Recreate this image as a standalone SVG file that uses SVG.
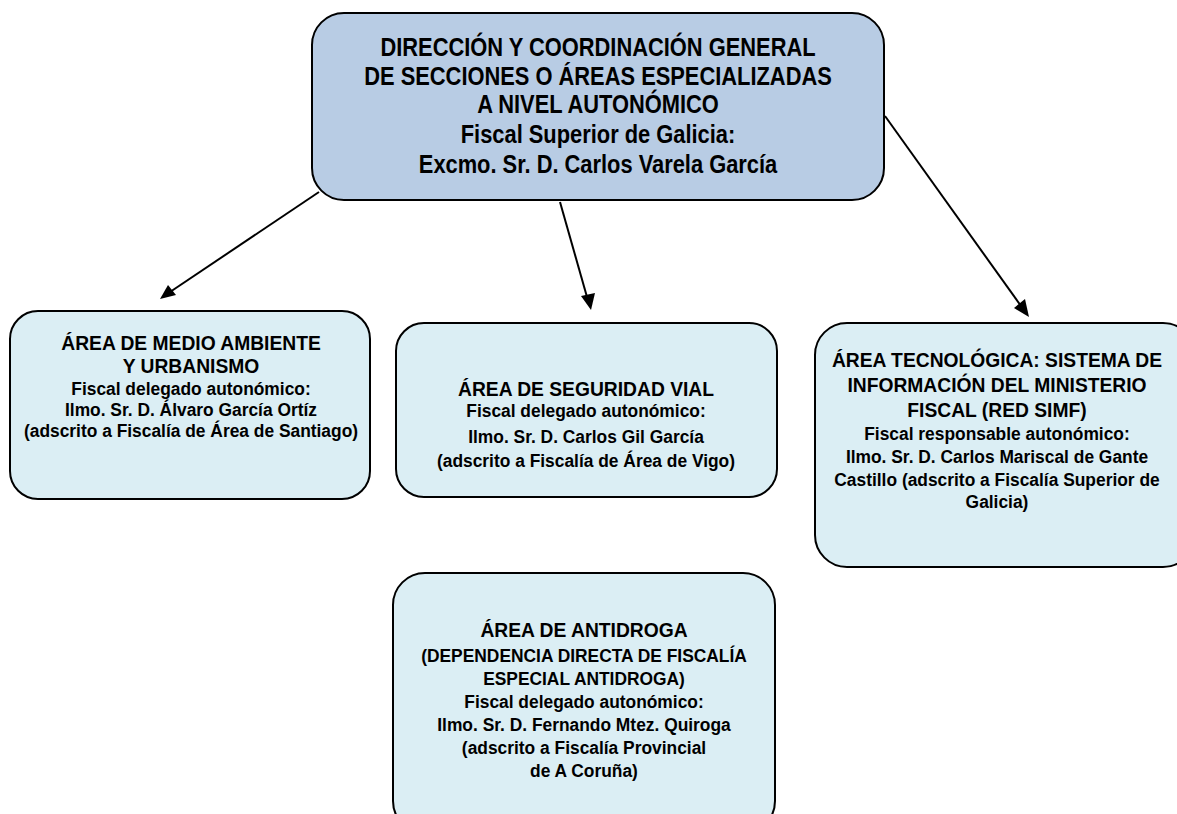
<svg xmlns="http://www.w3.org/2000/svg" width="1177" height="814" viewBox="0 0 1177 814">
<defs>
<style>
.box{stroke:#000;stroke-width:2}
.top{fill:#b8cce4}
.sub{fill:#dbeef4}
text{font-family:"Liberation Sans",Arial,sans-serif;font-weight:bold;fill:#000;text-anchor:middle}
.h1{font-size:25px}
.h2{font-size:20.5px}
.t{font-size:18.5px}
.con{stroke:#000;stroke-width:2;fill:none}
</style>
</defs>
<rect width="1177" height="814" fill="#fff"/>
<g id="connectors">
<line class="con" x1="319" y1="192" x2="170" y2="292"/>
<path d="M160,299 L168,285 L176,295 z" fill="#000"/>
<line class="con" x1="560" y1="202" x2="587" y2="297"/>
<path d="M591,310 L581,296 L595,293 z" fill="#000"/>
<line class="con" x1="885" y1="116" x2="1021" y2="306"/>
<path d="M1029,317 L1014,308 L1025,299 z" fill="#000"/>
</g>
<g id="top">
<rect class="box top" x="312" y="13" width="572" height="187" rx="32"/>
<g transform="translate(598,0) scale(0.875,1)">
<text class="h1" x="0" y="56">DIRECCIÓN Y COORDINACIÓN GENERAL</text>
<text class="h1" x="0" y="85">DE SECCIONES O ÁREAS ESPECIALIZADAS</text>
<text class="h1" x="0" y="113">A NIVEL AUTONÓMICO</text>
<text class="h1" x="0" y="143">Fiscal Superior de Galicia:</text>
<text class="h1" x="0" y="173">Excmo. Sr. D. Carlos Varela García</text>
</g>
</g>
<g id="medio">
<rect class="box sub" x="10" y="311" width="360" height="188" rx="28"/>
<g transform="translate(191,0) scale(0.94,1)">
<text class="h2" x="0" y="350">ÁREA DE MEDIO AMBIENTE</text>
<text class="h2" x="0" y="373">Y URBANISMO</text>
</g>
<g transform="translate(191,0) scale(0.94,1)">
<text class="t" x="0" y="395">Fiscal delegado autonómico:</text>
<text class="t" x="0" y="416">Ilmo. Sr. D. Álvaro García Ortíz</text>
<text class="t" x="0" y="437">(adscrito a Fiscalía de Área de Santiago)</text>
</g>
</g>
<g id="vial">
<rect class="box sub" x="396" y="323" width="381" height="174" rx="28"/>
<g transform="translate(586,0) scale(0.94,1)">
<text class="h2" x="0" y="396">ÁREA DE SEGURIDAD VIAL</text>
<text class="t" x="0" y="417">Fiscal delegado autonómico:</text>
<text class="t" x="0" y="443">Ilmo. Sr. D. Carlos Gil García</text>
<text class="t" x="0" y="467">(adscrito a Fiscalía de Área de Vigo)</text>
</g>
</g>
<g id="tecno">
<rect class="box sub" x="815" y="323" width="380" height="244" rx="32"/>
<g transform="translate(997,0) scale(0.94,1)">
<text class="h2" x="0" y="367">ÁREA TECNOLÓGICA: SISTEMA DE</text>
<text class="h2" x="0" y="392">INFORMACIÓN DEL MINISTERIO</text>
<text class="h2" x="0" y="417">FISCAL (RED SIMF)</text>
<text class="t" x="0" y="440">Fiscal responsable autonómico:</text>
<text class="t" x="0" y="463">Ilmo. Sr. D. Carlos Mariscal de Gante</text>
<text class="t" x="0" y="486">Castillo (adscrito a Fiscalía Superior de</text>
<text class="t" x="0" y="508">Galicia)</text>
</g>
</g>
<g id="antidroga">
<rect class="box sub" x="393" y="573" width="382" height="260" rx="32"/>
<g transform="translate(584,0) scale(0.94,1)">
<text class="h2" x="0" y="637">ÁREA DE ANTIDROGA</text>
<text class="t" x="0" y="662">(DEPENDENCIA DIRECTA DE FISCALÍA</text>
<text class="t" x="0" y="685">ESPECIAL ANTIDROGA)</text>
<text class="t" x="0" y="708">Fiscal delegado autonómico:</text>
<text class="t" x="0" y="731">Ilmo. Sr. D. Fernando Mtez. Quiroga</text>
<text class="t" x="0" y="754">(adscrito a Fiscalía Provincial</text>
<text class="t" x="0" y="777">de A Coruña)</text>
</g>
</g>
</svg>
